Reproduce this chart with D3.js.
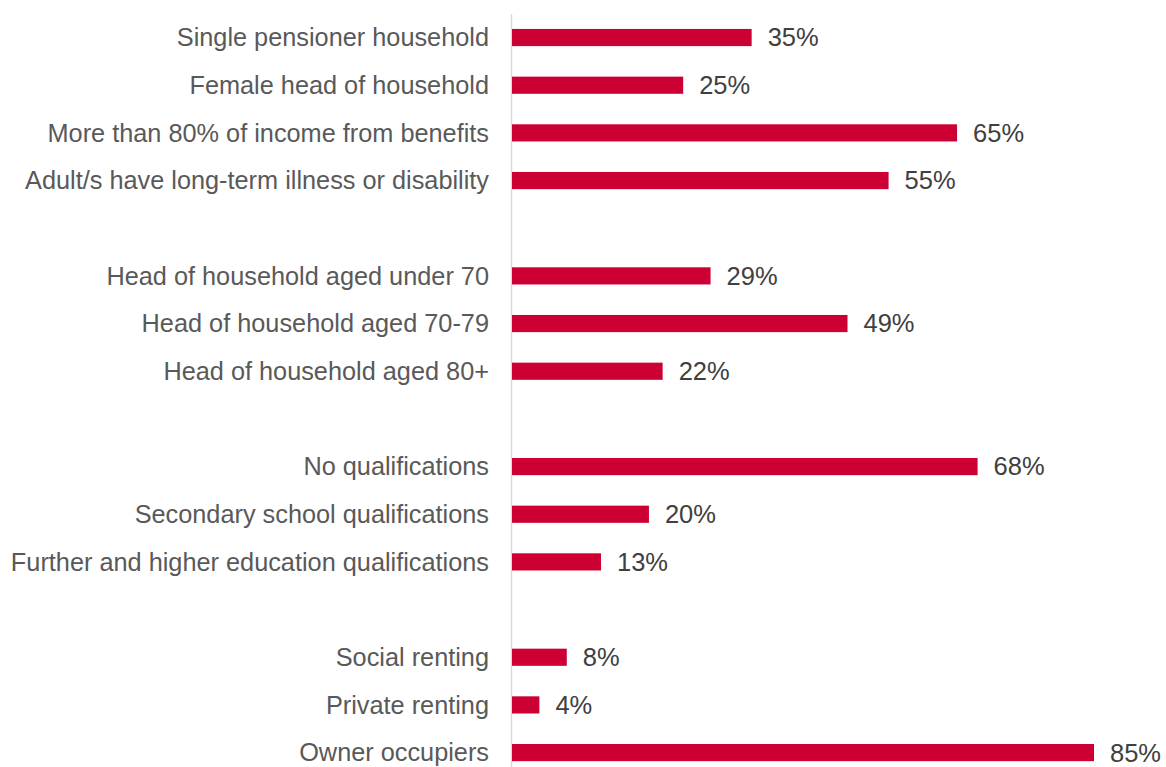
<!DOCTYPE html>
<html>
<head>
<meta charset="utf-8">
<script src="https://cdn.jsdelivr.net/npm/d3@7"></script>
<style>
  html, body { margin: 0; padding: 0; background: #ffffff; }
  svg { display: block; }
</style>
</head>
<body>
<svg id="chart" width="1166" height="767"></svg>
<script>
const categories = [
  "Single pensioner household",
  "Female head of household",
  "More than 80% of income from benefits",
  "Adult/s have long-term illness or disability",
  "Head of household aged under 70",
  "Head of household aged 70-79",
  "Head of household aged 80+",
  "No qualifications",
  "Secondary school qualifications",
  "Further and higher education qualifications",
  "Social renting",
  "Private renting",
  "Owner occupiers"
];
const values = [35, 25, 65, 55, 29, 49, 22, 68, 20, 13, 8, 4, 85];
const groups = [0, 0, 0, 0, 1, 1, 1, 2, 2, 2, 3, 3, 3];
const valueLabels = ["35%", "25%", "65%", "55%", "29%", "49%", "22%", "68%", "20%", "13%", "8%", "4%", "85%"];

const svg = d3.select("#chart");
const W = 1166, H = 767;

const slotCount = categories.length + 3;
const y = d3.scaleBand()
  .domain(d3.range(slotCount))
  .range([13.7, 13.7 + slotCount * 47.67])
  .paddingInner(0.64)
  .paddingOuter(0.32);

const x = d3.scaleLinear().domain([0, 85]).range([512, 1094]);

const rows = categories.map((c, i) => ({ label: c, value: values[i], text: valueLabels[i], slot: i + groups[i] }));

// axis line
svg.append("line")
  .attr("x1", 511.5).attr("x2", 511.5)
  .attr("y1", 14).attr("y2", H)
  .attr("stroke", "#d9d9d9").attr("stroke-width", 1.5);

const font = "'Liberation Sans', Arial, Helvetica, sans-serif";

svg.append("g").selectAll("rect")
  .data(rows).join("rect")
  .attr("x", x(0))
  .attr("y", d => y(d.slot))
  .attr("width", d => x(d.value) - x(0))
  .attr("height", y.bandwidth())
  .attr("fill", "#cc0033");

svg.append("g").selectAll("text")
  .data(rows).join("text")
  .attr("x", 489)
  .attr("y", d => y(d.slot) + y.bandwidth() / 2)
  .attr("dy", "0.35em")
  .attr("text-anchor", "end")
  .attr("font-family", font)
  .attr("font-size", 25.3)
  .attr("fill", "#595959")
  .text(d => d.label);

svg.append("g").selectAll("text")
  .data(rows).join("text")
  .attr("x", d => x(d.value) + 16)
  .attr("y", d => y(d.slot) + y.bandwidth() / 2)
  .attr("dy", "0.35em")
  .attr("text-anchor", "start")
  .attr("font-family", font)
  .attr("font-size", 25.5)
  .attr("fill", "#404040")
  .text(d => d.text);
</script>
</body>
</html>
